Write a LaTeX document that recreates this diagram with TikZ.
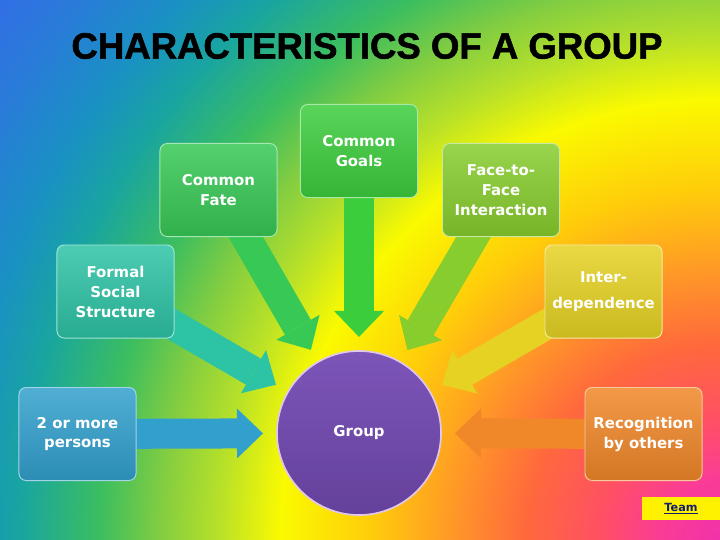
\documentclass[tikz,border=0pt]{standalone}
\usepackage{fontspec}
\newfontfamily\titlefont{Liberation Sans}[BoldFeatures={FakeBold=1.5}]
\newfontfamily\cardfont{DejaVu Sans}
\usetikzlibrary{arrows.meta}
% background rainbow, radial from the lower right corner
\definecolor{bgA}{RGB}{240,50,170}
\definecolor{bgB}{RGB}{250,60,150}
\definecolor{bgC}{RGB}{255,80,100}
\definecolor{bgD}{RGB}{255,105,60}
\definecolor{bgE}{RGB}{255,150,40}
\definecolor{bgF}{RGB}{255,205,10}
\definecolor{bgG}{RGB}{250,250,0}
\definecolor{bgH}{RGB}{185,225,40}
\definecolor{bgI}{RGB}{130,205,65}
\definecolor{bgJ}{RGB}{60,190,95}
\definecolor{bgK}{RGB}{25,165,160}
\definecolor{bgL}{RGB}{25,145,195}
\definecolor{bgM}{RGB}{40,125,215}
\definecolor{bgN}{RGB}{50,110,230}
\pgfdeclareradialshading{rainbowbg}{\pgfpointorigin}{color(0bp)=(bgA); color(1.67bp)=(bgB);
  color(3.33bp)=(bgC); color(5.42bp)=(bgD); color(7.36bp)=(bgE); color(9.72bp)=(bgF);
  color(12.22bp)=(bgG); color(13.89bp)=(bgH); color(15.56bp)=(bgI); color(17.22bp)=(bgJ);
  color(19.44bp)=(bgK); color(21.11bp)=(bgL); color(23.06bp)=(bgM); color(25bp)=(bgN);
  color(50bp)=(bgN)}
% boxes
\definecolor{twoC}{RGB}{50,160,205}
\definecolor{formC}{RGB}{45,195,165}
\definecolor{fateC}{RGB}{55,200,85}
\definecolor{goalC}{RGB}{60,205,60}
\definecolor{faceC}{RGB}{135,205,45}
\definecolor{interC}{RGB}{230,210,35}
\definecolor{recogC}{RGB}{240,135,40}
\definecolor{hubTop}{RGB}{125,85,185}
\definecolor{hubBot}{RGB}{100,65,155}
\definecolor{hubEdge}{RGB}{225,200,235}
\definecolor{teamInk}{RGB}{20,30,110}
\pgfdeclarelayer{bg}
\pgfdeclarelayer{back}
\pgfsetlayers{bg,back,main}

\begin{document}
\begin{tikzpicture}[x=0.025cm, y=-0.025cm,
    card/.style={rounded corners=0.18cm, minimum width=2.925cm, minimum height=2.325cm, inner sep=0pt,
      top color=#1!85!white, bottom color=#1!88!black, draw=#1!45!white, line width=0.7pt,
      align=center, text=white, font=\cardfont\bfseries\fontsize{10.6}{14.2}\selectfont},
    hub/.style={circle, minimum size=4.1cm, inner sep=0pt, top color=hubTop, bottom color=hubBot,
      draw=hubEdge, line width=1.2pt, text=white, font=\cardfont\bfseries\fontsize{10.6}{14.2}\selectfont},
    arr/.style={line width=0.75cm, -{Triangle[length=0.65cm, width=1.25cm, line width=0pt]},
      shorten >=0.33cm, shorten <=-0.3cm}]
  \useasboundingbox (0,0) rectangle (720,539);
  \begin{pgfonlayer}{bg}
    \clip (0,0) rectangle (720,539);
    \fill[shading=rainbowbg] (-180,-361) rectangle (1620,1439);
  \end{pgfonlayer}

  \node[font=\titlefont\bfseries\fontsize{26}{30}\selectfont] (title) at (367,46) {CHARACTERISTICS OF A GROUP};

  \node[hub] (grp) at (359,433) {Group};
  \node[card=twoC] (two) at (77.5,434) {2 or more\\persons};
  \node[card=formC] (form) at (115.5,291.5) {Formal\\Social\\Structure};
  \node[card=fateC] (fate) at (218.5,190) {Common\\Fate};
  \node[card=goalC] (goal) at (359,151) {Common\\Goals};
  \node[card=faceC] (face) at (501,190) {Face-to-\\Face\\Interaction};
  \node[card=interC] (inter) at (603.5,291.5) {Inter-\\[0.17cm]dependence};
  \node[card=recogC] (recog) at (643.5,434) {Recognition\\by others};

  \begin{pgfonlayer}{back}
    \draw[arr, twoC] (two) -- (grp);
    \draw[arr, formC] (form) -- (grp);
    \draw[arr, fateC] (fate) -- (grp);
    \draw[arr, goalC] (goal) -- (grp);
    \draw[arr, faceC] (face) -- (grp);
    \draw[arr, interC] (inter) -- (grp);
    \draw[arr, recogC] (recog) -- (grp);
  \end{pgfonlayer}

  \node[fill=yellow, minimum width=1.95cm, minimum height=0.575cm, inner sep=0pt, text=teamInk,
    font=\cardfont\bfseries\fontsize{8}{9}\selectfont] (team) at (681,508.5) {\underline{Team}};
\end{tikzpicture}
\end{document}
